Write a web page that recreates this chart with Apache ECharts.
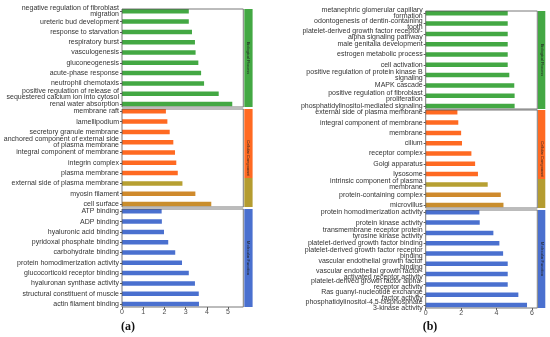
<!DOCTYPE html>
<html><head><meta charset="utf-8">
<script src="https://cdn.jsdelivr.net/npm/echarts@6/dist/echarts.min.js"></script>
<style>html,body{margin:0;padding:0;background:#fff}#c{width:550px;height:337px}</style>
</head><body><div id="c"></div>
<script>
// ---- Data (panel a) ----
const aBPCats = ['negative regulation of fibroblast\nmigration','ureteric bud development','response to starvation','respiratory burst','vasculogenesis','gluconeogenesis','acute-phase response','neutrophil chemotaxis','positive regulation of release of\nsequestered calcium ion into cytosol','renal water absorption'];
const aBPVals = [3.15,3.15,3.30,3.44,3.47,3.60,3.73,3.87,4.56,5.20];
const aCCCats = ['membrane raft','lamellipodium','secretory granule membrane','anchored component of external side\nof plasma membrane','integral component of membrane','integrin complex','plasma membrane','external side of plasma membrane','myosin filament','cell surface'];
const aCCVals = [2.07,2.14,2.25,2.42,2.50,2.56,2.63,2.85,3.46,4.21];
const aMFCats = ['ATP binding','ADP binding','hyaluronic acid binding','pyridoxal phosphate binding','carbohydrate binding','protein homodimerization activity','glucocorticoid receptor binding','hyaluronan synthase activity','structural constituent of muscle','actin filament binding'];
const aMFVals = [1.87,1.88,1.98,2.18,2.51,2.83,3.15,3.44,3.62,3.63];
const aTicks = [0,1,2,3,4,5];
// ---- Data (panel b) ----
const bBPCats = ['metanephric glomerular capillary\nformation','odontogenesis of dentin-containing\ntooth','platelet-derived growth factor receptor-\nalpha signaling pathway','male genitalia development','estrogen metabolic process','cell activation','positive regulation of protein kinase B\nsignaling','MAPK cascade','positive regulation of fibroblast\nproliferation','phosphatidylinositol-mediated signaling'];
const bBPVals = [4.63,4.63,4.63,4.63,4.63,4.63,4.72,5.00,5.02,5.02];
const bCCCats = ['external side of plasma membrane','integral component of membrane','membrane','cilium','receptor complex','Golgi apparatus','lysosome','intrinsic component of plasma\nmembrane','protein-containing complex','microvillus'];
const bCCVals = [1.79,1.84,2.00,2.05,2.58,2.79,2.95,3.50,4.24,4.39];
const bMFCats = ['protein homodimerization activity','protein kinase activity','transmembrane receptor protein\ntyrosine kinase activity','platelet-derived growth factor binding','platelet-derived growth factor receptor\nbinding','vascular endothelial growth factor\nbinding','vascular endothelial growth factor-\nactivated receptor activity','platelet-derived growth factor alpha-\nreceptor activity','Ras guanyl-nucleotide exchange\nfactor activity','phosphatidylinositol-4,5-bisphosphate\n3-kinase activity'];
const bMFVals = [3.03,3.05,3.82,4.16,4.37,4.63,4.63,4.63,5.23,5.72];
const bTicks = [0,2,4,6];
const facetNames = ['Biological Process','Cellular Component','Molecular Function'];

// ---- Styles ----
const GREEN = '#43A843', ORANGE = '#FF6A22', BLUE = '#4A70CF', OLIVE = '#B49C30';
const ccTail = ['#B7A032','#CF8A2C','#C98E2D'];
const FONT = 'Liberation Sans, Arial, sans-serif';

const chart = echarts.init(document.getElementById('c'), null, {renderer:'canvas'});
const grids = [], xAxes = [], yAxes = [], series = [], graphics = [];

function addPanel(left, width, max, ticks, stripX, stripW, boxTops, facets) {
  facets.forEach((f, k) => {
    const gi = grids.length;
    const boxTop = boxTops[k];
    grids.push({left: left, width: width, top: boxTop - 2.85, height: 103, containLabel: false});
    const isBottom = k === 2;
    xAxes.push({type:'value', gridIndex: gi, min: 0, max: max, show: isBottom, offset: -2.15,
      splitLine:{show:false}, axisLine:{show:false},
      axisTick:{show:true, length:2, lineStyle:{color:'#333', width:0.8}, customValues: ticks},
      axisLabel:{fontSize:7, color:'#4d4d4d', margin:2, fontFamily:FONT, customValues: ticks}});
    yAxes.push({type:'category', gridIndex: gi, data: f.cats, inverse: true,
      axisLine:{show:false},
      axisTick:{show:true, length:2, alignWithLabel:true, interval:0, lineStyle:{color:'#333', width:0.8}},
      axisLabel:{fontSize:7, color:'#333', margin:3, lineHeight:6, interval:0, hideOverlap:false, fontFamily:FONT}});
    const data = f.vals.map((v, i) => {
      if (k === 1 && i >= 7) return {value: v, itemStyle:{color: ccTail[i-7]}};
      return v;
    });
    series.push({type:'bar', xAxisIndex: gi, yAxisIndex: gi, data: data, barWidth: 4.5,
      itemStyle:{color: f.color}, silent:true, animation:false});
    graphics.push({type:'rect', shape:{x:left, y:boxTop, width:width, height:98}, z:100,
      style:{fill:'none', stroke:'#555', lineWidth:0.8}});
    let fill = f.color;
    if (k === 1) fill = new echarts.graphic.LinearGradient(0,0,0,1,[
      {offset:0,color:ORANGE},{offset:0.7,color:ORANGE},{offset:0.7,color:OLIVE},{offset:1,color:OLIVE}]);
    graphics.push({type:'rect', shape:{x:stripX, y:boxTop, width:stripW, height:98}, z:100,
      style:{fill: fill}});
    graphics.push({type:'text', x: stripX + stripW/2, y: boxTop + 49, rotation: -Math.PI/2, z:101,
      style:{text: facetNames[k], fontSize:4, fill:'#222', align:'center', verticalAlign:'middle', fontFamily: FONT}});
  });
}

addPanel(122, 121.3, 5.72, aTicks, 244.3, 8.3, [9,109,209], [
  {cats:aBPCats, vals:aBPVals, color:GREEN},
  {cats:aCCCats, vals:aCCVals, color:ORANGE},
  {cats:aMFCats, vals:aMFVals, color:BLUE}]);
addPanel(425.7, 111.6, 6.3, bTicks, 538, 7.3, [11,110,210], [
  {cats:bBPCats, vals:bBPVals, color:GREEN},
  {cats:bCCCats, vals:bCCVals, color:ORANGE},
  {cats:bMFCats, vals:bMFVals, color:BLUE}]);

graphics.push({type:'text', x:128, y:327, z:101, style:{text:'(a)', fontSize:12, fontWeight:'bold', fill:'#111', align:'center', verticalAlign:'middle', fontFamily:'Liberation Serif, Times New Roman, serif'}});
graphics.push({type:'text', x:430, y:327, z:101, style:{text:'(b)', fontSize:12, fontWeight:'bold', fill:'#111', align:'center', verticalAlign:'middle', fontFamily:'Liberation Serif, Times New Roman, serif'}});

chart.setOption({animation:false, backgroundColor:'#fff', grid: grids, xAxis: xAxes, yAxis: yAxes, series: series, graphic: graphics});
</script></body></html>
